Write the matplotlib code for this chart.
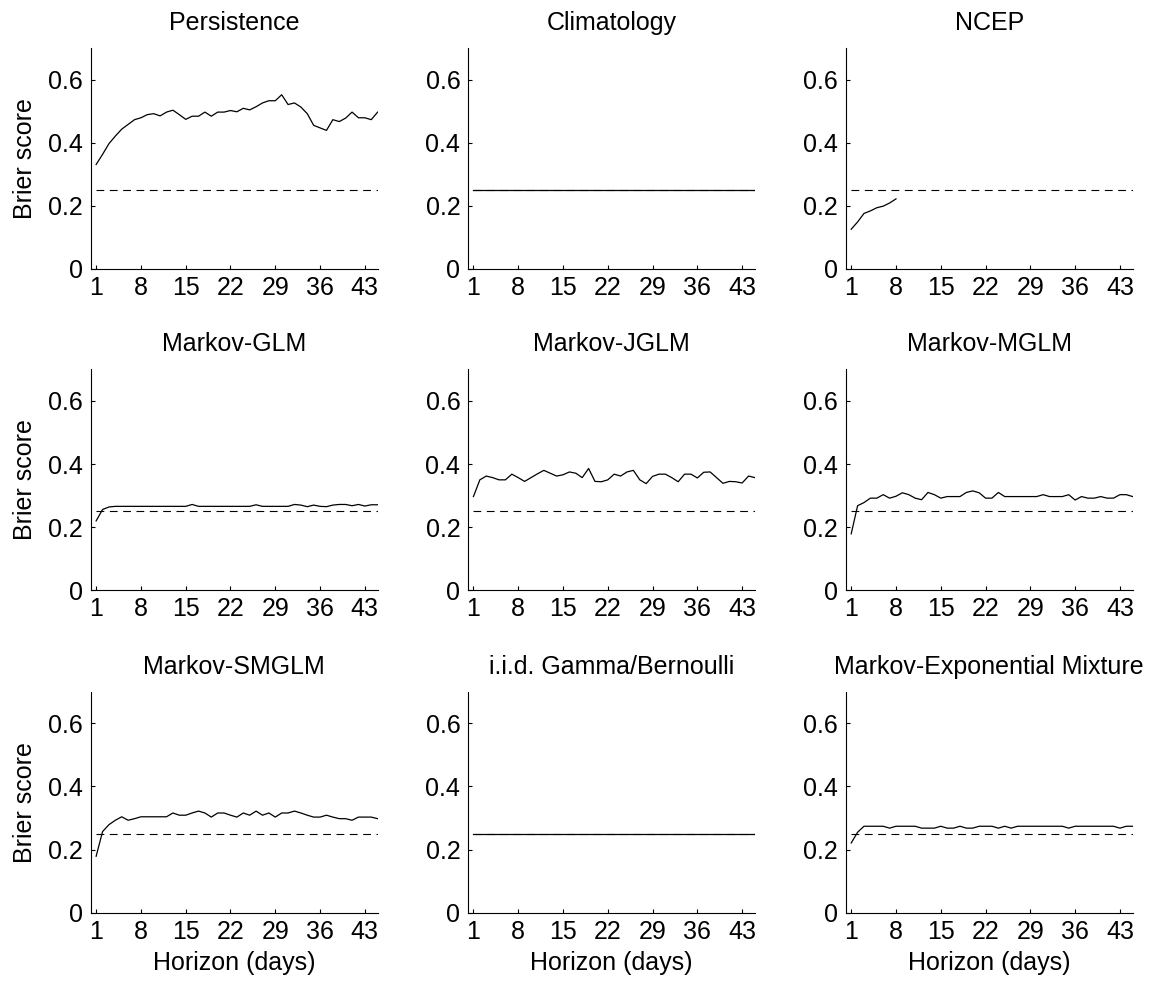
import matplotlib
matplotlib.use("Agg")
import matplotlib.pyplot as plt

plt.rcParams['font.family'] = ['Liberation Sans', 'DejaVu Sans']

horizon = list(range(1, 46))
ncep_horizon = list(range(1, 9))
climatology_level = 0.25

persistence = [0.331, 0.363, 0.397, 0.421, 0.443, 0.458, 0.473, 0.479, 0.489, 0.492,
               0.485, 0.497, 0.503, 0.489, 0.474, 0.484, 0.484, 0.497, 0.484, 0.497,
               0.497, 0.502, 0.498, 0.509, 0.504, 0.514, 0.526, 0.533, 0.533, 0.552,
               0.521, 0.526, 0.513, 0.492, 0.455, 0.447, 0.439, 0.473, 0.467, 0.478,
               0.497, 0.479, 0.479, 0.473, 0.497]
climatology = [0.25] * 45
ncep = [0.126, 0.149, 0.176, 0.184, 0.194, 0.199, 0.209, 0.222]
markov_glm = [0.220, 0.256, 0.264, 0.266, 0.266, 0.266, 0.266, 0.266, 0.266, 0.266,
              0.266, 0.266, 0.266, 0.266, 0.266, 0.272, 0.266, 0.266, 0.266, 0.266,
              0.266, 0.266, 0.266, 0.266, 0.266, 0.271, 0.266, 0.266, 0.266, 0.266,
              0.266, 0.272, 0.270, 0.265, 0.270, 0.266, 0.265, 0.270, 0.272, 0.272,
              0.268, 0.272, 0.267, 0.271, 0.271]
markov_jglm = [0.297, 0.350, 0.362, 0.357, 0.350, 0.350, 0.368, 0.357, 0.345, 0.357,
               0.369, 0.380, 0.371, 0.362, 0.366, 0.375, 0.371, 0.357, 0.386, 0.345,
               0.344, 0.350, 0.368, 0.362, 0.375, 0.380, 0.350, 0.338, 0.361, 0.368,
               0.368, 0.357, 0.344, 0.368, 0.368, 0.356, 0.374, 0.375, 0.357, 0.339,
               0.345, 0.344, 0.340, 0.362, 0.357]
markov_mglm = [0.179, 0.268, 0.278, 0.292, 0.292, 0.303, 0.292, 0.298, 0.309, 0.303,
               0.292, 0.287, 0.310, 0.303, 0.292, 0.297, 0.297, 0.297, 0.310, 0.315,
               0.309, 0.292, 0.292, 0.310, 0.297, 0.297, 0.297, 0.297, 0.297, 0.297,
               0.303, 0.297, 0.297, 0.297, 0.303, 0.286, 0.297, 0.292, 0.292, 0.297,
               0.292, 0.292, 0.303, 0.303, 0.297]
markov_smglm = [0.179, 0.257, 0.279, 0.293, 0.304, 0.293, 0.298, 0.304, 0.304, 0.304,
                0.304, 0.304, 0.316, 0.309, 0.309, 0.316, 0.322, 0.316, 0.303, 0.316,
                0.316, 0.309, 0.303, 0.316, 0.309, 0.322, 0.309, 0.316, 0.303, 0.316,
                0.316, 0.322, 0.316, 0.309, 0.303, 0.303, 0.309, 0.303, 0.298, 0.298,
                0.293, 0.303, 0.303, 0.303, 0.298]
iid_gamma = [0.25] * 45
markov_expmix = [0.221, 0.255, 0.274, 0.274, 0.274, 0.274, 0.268, 0.274, 0.274, 0.274,
                 0.274, 0.268, 0.268, 0.268, 0.274, 0.268, 0.268, 0.274, 0.268, 0.268,
                 0.274, 0.274, 0.274, 0.268, 0.274, 0.268, 0.274, 0.274, 0.274, 0.274,
                 0.274, 0.274, 0.274, 0.274, 0.268, 0.274, 0.274, 0.274, 0.274, 0.274,
                 0.274, 0.274, 0.268, 0.274, 0.274]

titles = ["Persistence", "Climatology", "NCEP",
          "Markov-GLM", "Markov-JGLM", "Markov-MGLM",
          "Markov-SMGLM", "i.i.d. Gamma/Bernoulli", "Markov-Exponential Mixture"]
series = [(horizon, persistence), (horizon, climatology), (ncep_horizon, ncep),
          (horizon, markov_glm), (horizon, markov_jglm), (horizon, markov_mglm),
          (horizon, markov_smglm), (horizon, iid_gamma), (horizon, markov_expmix)]

xticks = [1, 8, 15, 22, 29, 36, 43]
yticks = [0, 0.2, 0.4, 0.6]
ytick_labels = ["0", "0.2", "0.4", "0.6"]

fs = 18
fig = plt.figure(figsize=(11.57, 9.86), dpi=100)

lefts = [0.0784, 0.4045, 0.731]
bottoms = [0.7272, 0.4013, 0.0743]
w, h = 0.248, 0.2241

for i, (title, (x, y)) in enumerate(zip(titles, series)):
    row, col = divmod(i, 3)
    ax = fig.add_axes([lefts[col], bottoms[row], w, h])
    # reference level drawn dashed under each model curve
    ax.plot(horizon, [climatology_level] * len(horizon), color='black',
            lw=0.8, linestyle=(0, (7, 5)))
    ax.plot(x, y, color='black', lw=0.9)
    ax.set_xlim(0.15, 45)
    ax.set_ylim(0, 0.7)
    ax.set_xticks(xticks)
    ax.set_yticks(yticks)
    ax.set_yticklabels(ytick_labels)
    ax.spines['top'].set_visible(False)
    ax.spines['right'].set_visible(False)
    for s in ['left', 'bottom']:
        ax.spines[s].set_linewidth(0.8)
    ax.tick_params(direction='in', length=3, width=0.8, labelsize=fs)
    ax.tick_params(axis='x', pad=5)
    ax.tick_params(axis='y', pad=5.5)
    ax.set_title(title, fontsize=fs, pad=13)
    if col == 0:
        ax.set_ylabel("Brier score", fontsize=fs, labelpad=8)
    if row == 2:
        ax.set_xlabel("Horizon (days)", fontsize=fs, labelpad=5)

fig.savefig("out.png", dpi=100)
